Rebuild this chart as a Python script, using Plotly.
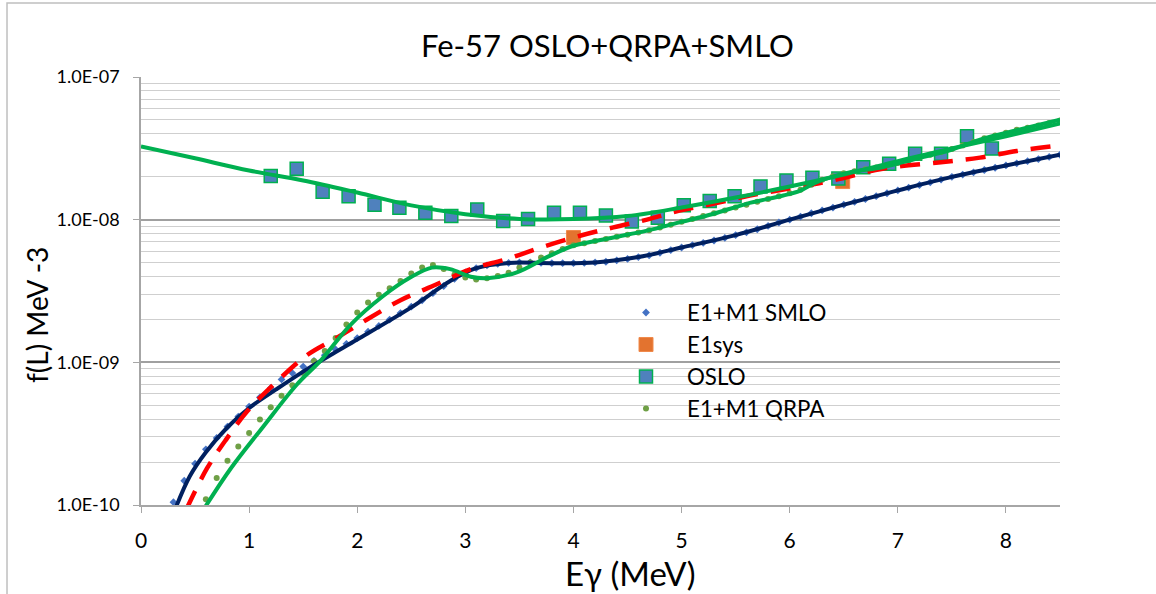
import plotly.graph_objects as go

# ---------------- data ----------------
energy_grid = [0.3, 0.4, 0.5, 0.6, 0.7, 0.8, 0.9, 1.0, 1.1, 1.2,
               1.3, 1.4, 1.5, 1.6, 1.7, 1.8, 1.9, 2.0, 2.1, 2.2,
               2.3, 2.4, 2.5, 2.6, 2.7, 2.8, 2.9, 3.0, 3.1, 3.2,
               3.3, 3.4, 3.5, 3.6, 3.7, 3.8, 3.9, 4.0, 4.1, 4.2,
               4.3, 4.4, 4.5, 4.6, 4.7, 4.8, 4.9, 5.0, 5.1, 5.2,
               5.3, 5.4, 5.5, 5.6, 5.7, 5.8, 5.9, 6.0, 6.1, 6.2,
               6.3, 6.4, 6.5, 6.6, 6.7, 6.8, 6.9, 7.0, 7.1, 7.2,
               7.3, 7.4, 7.5, 7.6, 7.7, 7.8, 7.9, 8.0, 8.1, 8.2,
               8.3, 8.4, 8.5]

# E1+M1 SMLO points (log10 of f)
smlo_log10 = [-9.98, -9.83, -9.71, -9.61, -9.53, -9.45, -9.38, -9.31, -9.245, -9.18,
              -9.12, -9.075, -9.03, -8.99, -8.95, -8.91, -8.87, -8.83, -8.785, -8.745,
              -8.70, -8.655, -8.61, -8.565, -8.515, -8.465, -8.415, -8.37, -8.34, -8.32,
              -8.31, -8.303, -8.30, -8.30, -8.302, -8.305, -8.305, -8.305, -8.303, -8.30,
              -8.295, -8.285, -8.275, -8.262, -8.25, -8.232, -8.213, -8.195, -8.178, -8.162,
              -8.146, -8.128, -8.108, -8.089, -8.067, -8.044, -8.02, -8.0, -7.978, -7.955,
              -7.935, -7.915, -7.895, -7.875, -7.855, -7.835, -7.815, -7.795, -7.776, -7.757,
              -7.738, -7.719, -7.70, -7.684, -7.668, -7.652, -7.636, -7.62, -7.605, -7.59,
              -7.575, -7.56, -7.545]

# E1+M1 QRPA points (log10 of f)
qrpa_log10 = [None, None, None, -9.96, -9.81, -9.69, -9.59, -9.495, -9.40, -9.315,
              -9.235, -9.16, -9.075, -8.99, -8.92, -8.83, -8.735, -8.65, -8.58, -8.527,
              -8.48, -8.43, -8.378, -8.336, -8.318, -8.345, -8.385, -8.406, -8.42, -8.41,
              -8.395, -8.372, -8.335, -8.30, -8.265, -8.235, -8.205, -8.18, -8.165, -8.15,
              -8.135, -8.12, -8.105, -8.09, -8.075, -8.055, -8.035, -8.015, -7.995, -7.975,
              -7.955, -7.935, -7.915, -7.895, -7.875, -7.855, -7.835, -7.815, -7.79, -7.755,
              -7.72, -7.695, -7.675, -7.66, -7.646, -7.634, -7.62, -7.603, -7.585, -7.565,
              -7.545, -7.525, -7.505, -7.48, -7.455, -7.43, -7.41, -7.39, -7.37, -7.355,
              -7.34, -7.322, -7.305]

# OSLO data
oslo_E = [1.20, 1.44, 1.68, 1.92, 2.16, 2.39, 2.63, 2.87, 3.11, 3.35,
          3.58, 3.82, 4.06, 4.30, 4.54, 4.78, 5.02, 5.26, 5.49, 5.73,
          5.97, 6.21, 6.45, 6.68, 6.92, 7.16, 7.40, 7.64, 7.87]
oslo_f = [2.02e-8, 2.27e-8, 1.57e-8, 1.46e-8, 1.27e-8, 1.21e-8, 1.12e-8, 1.06e-8, 1.18e-8, 9.8e-9,
          1.01e-8, 1.12e-8, 1.12e-8, 1.07e-8, 9.7e-9, 1.03e-8, 1.26e-8, 1.35e-8, 1.46e-8, 1.71e-8,
          1.88e-8, 1.97e-8, 1.94e-8, 2.33e-8, 2.47e-8, 2.90e-8, 2.90e-8, 3.85e-8, 3.15e-8]

# E1sys points
e1sys_E = [4.0, 6.49]
e1sys_f = [7.5e-9, 1.85e-8]

# smooth curves (log10 of f)
smlo_line_E = [0.30, 0.45, 0.60, 0.80, 1.00, 1.25, 1.50, 1.75, 2.00, 2.50, 2.86, 3.10,
               3.40, 3.80, 4.20, 4.60, 5.00, 5.50, 6.00, 6.50, 7.00, 7.50, 8.00, 8.50]
smlo_line_log10 = [-10.06, -9.80, -9.63, -9.455, -9.32, -9.19, -9.065, -8.95, -8.84, -8.615, -8.43, -8.34,
                   -8.303, -8.305, -8.30, -8.262, -8.195, -8.108, -8.0, -7.895, -7.795, -7.70, -7.62, -7.545]

sys_line_E = [0.42, 0.61, 0.795, 0.98, 1.257, 1.535, 1.81, 2.09, 2.40, 2.735, 3.05, 3.38, 3.70,
              4.06, 4.37, 4.68, 4.98, 5.29, 5.63, 6.03, 6.40, 6.86, 7.42, 7.76, 8.10, 8.50]
sys_line_log10 = [-10.03, -9.744, -9.533, -9.345, -9.134, -8.95, -8.829, -8.70, -8.565, -8.453, -8.347, -8.277, -8.195,
                  -8.113, -8.054, -8.0, -7.937, -7.889, -7.831, -7.777, -7.725, -7.643, -7.596, -7.565, -7.519, -7.479]

qrpa_line_E = [0.58, 0.83, 1.13, 1.44, 1.67, 1.94, 2.24, 2.49, 2.69, 2.86, 3.05, 3.20, 3.47, 3.78,
               4.00, 4.37, 4.68, 4.98, 5.29, 5.60, 5.94, 6.10, 6.25, 6.56, 6.86, 7.17, 7.48, 7.79, 8.10, 8.50]
qrpa_line_log10 = [-10.03, -9.744, -9.451, -9.157, -8.981, -8.735, -8.535, -8.406, -8.336, -8.347, -8.40, -8.41, -8.371, -8.254,
                   -8.183, -8.125, -8.077, -8.019, -7.960, -7.889, -7.831, -7.796, -7.737, -7.667, -7.632, -7.573, -7.514, -7.432, -7.373, -7.30]

oslo_fit_E = [0.0, 0.5, 1.0, 1.5, 2.0, 2.5, 3.0, 3.5, 4.0, 4.5, 5.0, 5.5, 6.0, 6.5, 7.0, 7.5, 8.0, 8.5]
oslo_fit_log10 = [-7.486, -7.57, -7.655, -7.725, -7.81, -7.90, -7.962, -7.995, -7.996, -7.975,
                  -7.915, -7.845, -7.768, -7.683, -7.59, -7.50, -7.415, -7.325]

x_ticks = [0, 1, 2, 3, 4, 5, 6, 7, 8]
y_ticks = [1e-10, 1e-9, 1e-8, 1e-7]
y_ticktext = ["1.0E-10", "1.0E-09", "1.0E-08", "1.0E-07"]


def pw(vals):
    return [None if v is None else 10 ** v for v in vals]


FONT = "Lato, 'Open Sans', sans-serif"
NAVY = "#002060"
GREEN = "#00B050"
RED = "#FF0000"

fig = go.Figure()

# legend traces (markers)
fig.add_trace(go.Scatter(x=energy_grid, y=pw(smlo_log10), mode="markers", name="E1+M1 SMLO",
                         legendgroup="a",
                         marker=dict(symbol="diamond", size=6, color="#4472C4")))
fig.add_trace(go.Scatter(x=e1sys_E, y=e1sys_f, mode="markers", name="E1sys",
                         legendgroup="b",
                         marker=dict(symbol="square", size=14, color="#E3732F",
                                     line=dict(color="#F08A4B", width=1))))
fig.add_trace(go.Scatter(x=oslo_E, y=oslo_f, mode="markers", name="OSLO",
                         legendgroup="c",
                         marker=dict(symbol="square", size=13, color="#4F81BD",
                                     line=dict(color=GREEN, width=1.5))))
fig.add_trace(go.Scatter(x=energy_grid, y=pw(qrpa_log10), mode="markers", name="E1+M1 QRPA",
                         legendgroup="d",
                         marker=dict(symbol="circle", size=6, color="#6FA046")))

# curves
fig.add_trace(go.Scatter(x=smlo_line_E, y=pw(smlo_line_log10), mode="lines", showlegend=False,
                         line=dict(color=NAVY, width=4, shape="spline", smoothing=1.0)))
fig.add_trace(go.Scatter(x=sys_line_E, y=pw(sys_line_log10), mode="lines", showlegend=False,
                         line=dict(color=RED, width=4.5, dash="20px,13px", shape="spline", smoothing=1.0)))
fig.add_trace(go.Scatter(x=qrpa_line_E, y=pw(qrpa_line_log10), mode="lines", showlegend=False,
                         line=dict(color=GREEN, width=4, shape="spline", smoothing=1.0)))
fig.add_trace(go.Scatter(x=oslo_fit_E, y=pw(oslo_fit_log10), mode="lines", showlegend=False,
                         line=dict(color=GREEN, width=4, shape="spline", smoothing=1.0)))

minor_vals = [k * 10.0 ** n for n in (-10, -9, -8) for k in range(2, 10)]

fig.update_layout(
    width=1156, height=594,
    margin=dict(l=141, r=96, t=77, b=89),
    paper_bgcolor="white", plot_bgcolor="white",
    font=dict(family=FONT, color="black"),
    showlegend=True,
    legend=dict(x=(605 - 141) / 919, y=0.4988, xanchor="left", yanchor="top",
                bgcolor="rgba(0,0,0,0)", font=dict(size=22.3, family=FONT),
                tracegroupgap=0, traceorder="normal", itemwidth=72),
    xaxis=dict(range=[0, 8.5], tickvals=x_ticks, ticks="outside", ticklen=6, tickcolor="#a6a6a6",
               tickwidth=1.3, showline=True, linecolor="#a6a6a6", linewidth=1.5,
               showgrid=False, zeroline=False, tickfont=dict(size=21), ticklabelstandoff=10),
    yaxis=dict(type="log", range=[-10, -7], tickvals=y_ticks, ticktext=y_ticktext,
               ticks="outside", ticklen=6, tickcolor="#a6a6a6", tickwidth=1.3,
               showline=True, linecolor="#a6a6a6", linewidth=1.5,
               showgrid=True, gridcolor="#a0a0a0", gridwidth=1.5, zeroline=False,
               minor=dict(tickvals=minor_vals, showgrid=True, gridcolor="#cfcfcf", gridwidth=1.3, ticks=""),
               tickfont=dict(size=18), ticklabelstandoff=10),
    annotations=[
        dict(text="Fe-57 OSLO+QRPA+SMLO", xref="paper", yref="paper", x=(607 - 141) / 919, y=(505 - 45) / 428,
             xanchor="center", yanchor="middle", showarrow=False, font=dict(size=31)),
        dict(text="Eγ (MeV)", xref="paper", yref="paper", x=(630 - 141) / 919, y=(505 - 573) / 428,
             xanchor="center", yanchor="middle", showarrow=False, font=dict(size=33)),
        dict(text="f(L) MeV -3", xref="paper", yref="paper", x=(37 - 141) / 919, y=(505 - 315) / 428,
             textangle=-90, xanchor="center", yanchor="middle", showarrow=False, font=dict(size=28)),
    ],
    shapes=[dict(type="rect", xref="paper", yref="paper", x0=-0.1458, x1=1.3, y0=-0.3, y1=1.1729,
                 line=dict(color="#bfbfbf", width=1.5), layer="below")],
)

fig.write_html("out.html")
